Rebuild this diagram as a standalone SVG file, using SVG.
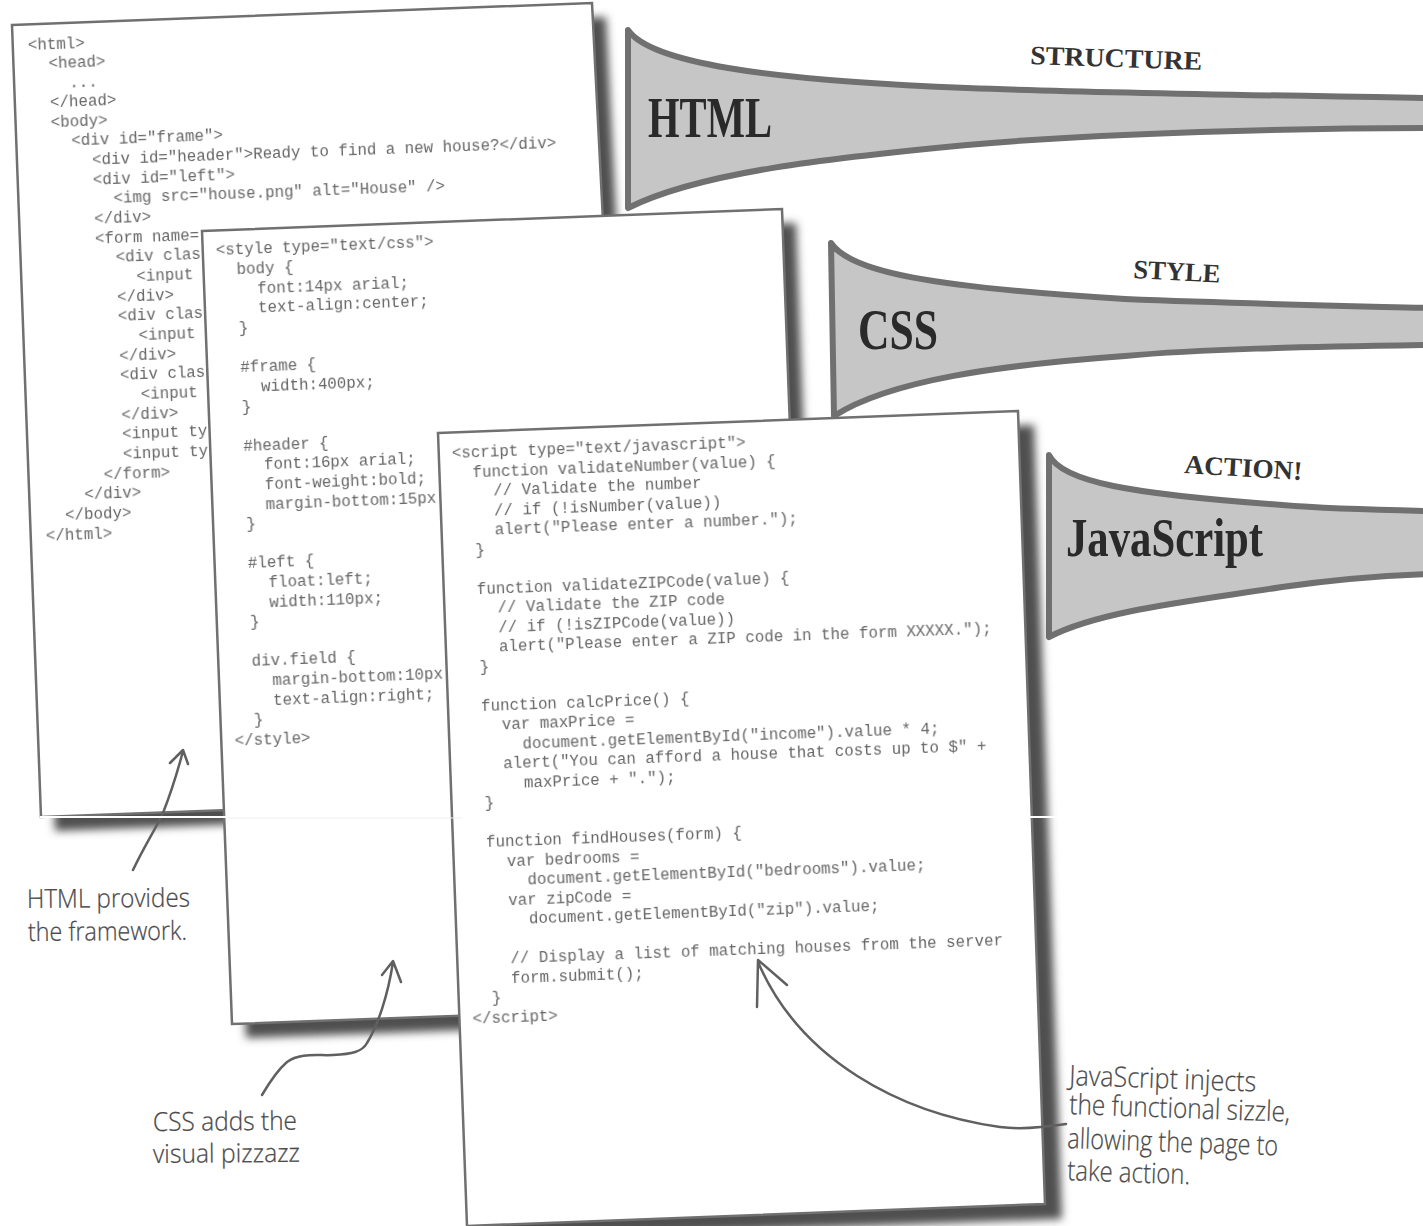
<svg xmlns="http://www.w3.org/2000/svg" width="1423" height="1226" viewBox="0 0 1423 1226">
<defs>
<filter id="sh" x="-10%" y="-10%" width="120%" height="120%"><feGaussianBlur stdDeviation="4.5"/></filter>
<filter id="soft" x="-5%" y="-5%" width="110%" height="110%"><feGaussianBlur stdDeviation="0.55"/></filter>
</defs>
<style>
.code{font-family:"Liberation Mono","DejaVu Sans Mono",monospace;font-size:15.8px;fill:#666;filter:url(#soft)}
.hand{font-family:"Open Sans","Liberation Sans",sans-serif;font-size:26px;fill:#4a4a4a;font-weight:300;stroke:#4a4a4a;stroke-width:.25}
.page{fill:#fff;stroke:#707070;stroke-width:2.5;stroke-linejoin:miter}
.shadow{fill:#505050;filter:url(#sh)}
.horn{fill:#c6c6c6;stroke:#707070;stroke-width:6;stroke-linejoin:round}
.big{font-family:"Liberation Serif",serif;font-weight:bold;fill:#2a2a2a}
.cap{font-family:"Liberation Serif",serif;font-weight:bold;font-size:26.5px;fill:#333}
.arrow{fill:none;stroke:#606060;stroke-width:2.5;stroke-linecap:round;stroke-linejoin:round}
</style>
<rect width="1423" height="1226" fill="#fff"/>
<g id="horn-html">
<path class="horn" d="M628 30C650 62 760 80 967 88C1100 93 1300 96 1428 98V128C1300 128 1100 133 967 145C830 158 700 172 628 208Z"/>
<text class="big" x="648" y="137" font-size="58" textLength="124" lengthAdjust="spacingAndGlyphs">HTML</text>
<text class="cap" x="1030" y="64" textLength="172" lengthAdjust="spacingAndGlyphs" transform="rotate(2 1030 64)">STRUCTURE</text>
</g>
<g id="horn-css">
<path class="horn" d="M831 243C850 272 930 287 1125 299C1250 304 1350 306 1428 308V345C1300 347 1200 349 1125 356C1000 365 890 380 834 416Z"/>
<text class="big" x="858" y="349" font-size="58" textLength="80" lengthAdjust="spacingAndGlyphs">CSS</text>
<text class="cap" x="1133" y="278" textLength="87" lengthAdjust="spacingAndGlyphs" transform="rotate(3 1133 278)">STYLE</text>
</g>
<g id="horn-js">
<path class="horn" d="M1049 455C1062 482 1130 494 1282 505C1330 509 1380 510 1428 511V574C1370 576 1330 580 1282 587C1200 600 1100 610 1049 637Z"/>
<text class="big" x="1066" y="556" font-size="54" textLength="197" lengthAdjust="spacingAndGlyphs">JavaScript</text>
<text class="cap" x="1184" y="473" textLength="118" lengthAdjust="spacingAndGlyphs" transform="rotate(3.4 1184 473)">ACTION!</text>
</g>
<g id="page-html">
<path class="shadow" d="M26 39L606 17L646 809L55 831Z"/>
<path class="page" d="M12 25L592 3L632 795L41 817Z"/>
<g class="code" transform="translate(0 2) rotate(-2.1 28 48)">
<text x="28" y="48">&lt;html&gt;</text>
<text x="48" y="67">&lt;head&gt;</text>
<text x="68" y="87">...</text>
<text x="48" y="106">&lt;/head&gt;</text>
<text x="48" y="126">&lt;body&gt;</text>
<text x="68" y="145">&lt;div id="frame"&gt;</text>
<text x="88" y="165">&lt;div id="header"&gt;Ready to find a new house?&lt;/div&gt;</text>
<text x="88" y="185">&lt;div id="left"&gt;</text>
<text x="108" y="204">&lt;img src="house.png" alt="House" /&gt;</text>
<text x="88" y="224">&lt;/div&gt;</text>
<text x="88" y="244">&lt;form name=</text>
<text x="108" y="263">&lt;div clas</text>
<text x="128" y="283">&lt;input</text>
<text x="108" y="303">&lt;/div&gt;</text>
<text x="108" y="322">&lt;div clas</text>
<text x="128" y="342">&lt;input</text>
<text x="108" y="362">&lt;/div&gt;</text>
<text x="108" y="381">&lt;div clas</text>
<text x="128" y="401">&lt;input</text>
<text x="108" y="421">&lt;/div&gt;</text>
<text x="108" y="440">&lt;input ty</text>
<text x="108" y="460">&lt;input ty</text>
<text x="88" y="480">&lt;/form&gt;</text>
<text x="68" y="499">&lt;/div&gt;</text>
<text x="48" y="519">&lt;/body&gt;</text>
<text x="28" y="539">&lt;/html&gt;</text>
</g>
</g>
<g id="page-css">
<path class="shadow" d="M216 245L796 223L825 1017L246 1038Z"/>
<path class="page" d="M202 231L782 209L811 1003L232 1024Z"/>
<g class="code" transform="translate(0 3) rotate(-2.2 216 252)">
<text x="216" y="252">&lt;style type="text/css"&gt;</text>
<text x="236" y="272">body {</text>
<text x="256" y="292">font:14px arial;</text>
<text x="256" y="311">text-align:center;</text>
<text x="236" y="331">}</text>
<text x="236" y="370">#frame {</text>
<text x="256" y="390">width:400px;</text>
<text x="236" y="410">}</text>
<text x="236" y="449">#header {</text>
<text x="256" y="468">font:16px arial;</text>
<text x="256" y="488">font-weight:bold;</text>
<text x="256" y="508">margin-bottom:15px</text>
<text x="236" y="527">}</text>
<text x="236" y="566">#left {</text>
<text x="256" y="586">float:left;</text>
<text x="256" y="606">width:110px;</text>
<text x="236" y="625">}</text>
<text x="236" y="664">div.field {</text>
<text x="256" y="684">margin-bottom:10px</text>
<text x="256" y="704">text-align:right;</text>
<text x="236" y="723">}</text>
<text x="216" y="743">&lt;/style&gt;</text>
</g>
</g>
<g id="page-js">
<path class="shadow" d="M454 449L1034 425L1062 1219L482 1240Z"/>
<path class="page" d="M438 433L1018 411L1045 1204L467 1226Z"/>
<g class="code" transform="translate(0 1) rotate(-2.1 452 457)">
<text x="452" y="457">&lt;script type="text/javascript"&gt;</text>
<text x="472" y="476.5">function validateNumber(value) {</text>
<text x="492" y="496">// Validate the number</text>
<text x="492" y="515.5">// if (!isNumber(value))</text>
<text x="492" y="535">alert("Please enter a number.");</text>
<text x="472" y="554.5">}</text>
<text x="472" y="593.5">function validateZIPCode(value) {</text>
<text x="492" y="613">// Validate the ZIP code</text>
<text x="492" y="632.5">// if (!isZIPCode(value))</text>
<text x="492" y="652">alert("Please enter a ZIP code in the form XXXXX.");</text>
<text x="472" y="671.5">}</text>
<text x="472" y="710.5">function calcPrice() {</text>
<text x="492" y="730">var maxPrice =</text>
<text x="512" y="749.5">document.getElementById("income").value * 4;</text>
<text x="492" y="769">alert("You can afford a house that costs up to $" +</text>
<text x="512" y="788.5">maxPrice + ".");</text>
<text x="472" y="808">}</text>
<text x="472" y="847">function findHouses(form) {</text>
<text x="492" y="866.5">var bedrooms =</text>
<text x="512" y="886">document.getElementById("bedrooms").value;</text>
<text x="492" y="905.5">var zipCode =</text>
<text x="512" y="925">document.getElementById("zip").value;</text>
<text x="492" y="964">// Display a list of matching houses from the server</text>
<text x="492" y="983.5">form.submit();</text>
<text x="472" y="1003">}</text>
<text x="452" y="1022.5">&lt;/script&gt;</text>
</g>
</g>
<g id="connectors">
<path class="arrow" d="M133 870C145 845 155 830 163 813C172 790 178 770 183 751M170 763L183 750L188 764"/>
<path class="arrow" d="M262 1095C272 1078 280 1068 287 1062C300 1052 320 1056 333 1055C352 1054 362 1052 367 1043C378 1025 388 995 393 962M382 975L393 961L401 982"/>
<path class="arrow" stroke-width="3" d="M1066 1124C1040 1128 1015 1129 1000 1127C900 1113 800 1060 758 962M757 1007L758 960L787 985"/>
<path d="M40 817H228M1022 817H1068" stroke="#fff" stroke-width="2" fill="none"/>
<path d="M228 818H462" stroke="#eee" stroke-width="1" fill="none"/>
</g>
<g id="note-html" class="hand"><text x="27" y="908" textLength="163" lengthAdjust="spacingAndGlyphs" transform="rotate(-0.5 27 908)">HTML provides</text><text x="28" y="941" textLength="159" lengthAdjust="spacingAndGlyphs" transform="rotate(-0.5 28 941)">the framework.</text></g>
<g id="note-css" class="hand"><text x="153" y="1131" textLength="144" lengthAdjust="spacingAndGlyphs" transform="rotate(-0.5 153 1131)">CSS adds the</text><text x="153" y="1163" textLength="147" lengthAdjust="spacingAndGlyphs" transform="rotate(-0.5 153 1163)">visual pizzazz</text></g>
<g id="note-js" class="hand"><text x="1069" y="1085" font-size="28" textLength="187" lengthAdjust="spacingAndGlyphs" transform="rotate(2 1069 1085)">JavaScript injects</text><text x="1069" y="1114" font-size="28" textLength="221" lengthAdjust="spacingAndGlyphs" transform="rotate(2 1069 1114)">the functional sizzle,</text><text x="1067" y="1148" font-size="28" textLength="211" lengthAdjust="spacingAndGlyphs" transform="rotate(2 1067 1148)">allowing the page to</text><text x="1067" y="1180" font-size="28" textLength="123" lengthAdjust="spacingAndGlyphs" transform="rotate(2 1067 1180)">take action.</text></g>
</svg>
